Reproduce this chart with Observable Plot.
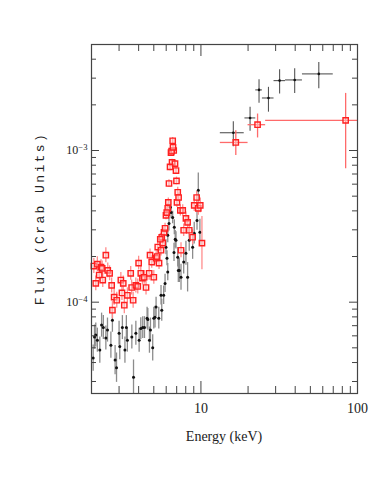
<!DOCTYPE html>
<html><head><meta charset="utf-8">
<script src="https://cdn.jsdelivr.net/npm/d3@7"></script>
<script src="https://cdn.jsdelivr.net/npm/@observablehq/plot@0.6"></script>
<style>body{margin:0;background:#fff}</style>
</head><body><div id="chart"></div>
<script>
// ---- low-energy spectrum, red series (flux in 1e-4 Crab) ----
const redE = [2.07,2.13,2.18,2.24,2.30,2.34,2.36,2.47,2.54,2.61,2.69,2.72,2.79,2.90,3.08,3.13,3.19,3.24,3.39,3.56,3.61,3.69,3.84,3.95,4.00,4.13,4.23,4.34,4.46,4.67,4.73,4.85,5.00,
  5.17,5.30,5.40,5.56,5.62,5.70,5.81,5.90,5.98,6.14,6.19,
  6.25,6.44,6.54,6.60,6.70,6.83,6.93,
  7.03,7.11,7.39,7.46,7.65,7.76,8.02,8.22,8.42,8.85,9.06,9.39,9.62,9.90,10.15,
  6.05,6.35,6.50,6.63,6.98,7.20,5.50,5.25];
const redF = [1.73,1.33,1.78,1.51,1.70,1.67,1.40,2.04,1.62,1.55,1.29,0.885,1.08,1.03,1.40,1.15,1.33,0.955,1.11,1.55,1.25,1.03,1.29,1.27,1.81,1.55,1.44,1.46,1.25,1.55,2.04,1.84,1.46,
  1.95,2.31,1.81,2.20,2.68,2.45,2.89,3.07,3.74,4.16,4.55,
  6.06,9.7,8.34,11.6,10.0,8.2,7.38,
  4.55,5.30,4.03,2.20,4.03,2.98,3.57,3.36,2.98,2.68,4.35,4.90,4.16,4.35,2.45,
  3.9,7.8,9.9,10.5,6.3,4.9,2.6,2.0];
const redErr = [0.12,0.12,0.12,0.12,0.12,0.12,0.12,0.12,0.12,0.12,0.12,0.14,0.13,0.13,0.12,0.12,0.12,0.14,0.12,0.11,0.12,0.13,0.12,0.12,0.11,0.11,0.11,0.11,0.12,0.11,0.1,0.1,0.11,
  0.1,0.09,0.1,0.09,0.09,0.09,0.08,0.08,0.07,0.07,0.07,
  0.06,0.05,0.05,0.05,0.05,0.05,0.06,
  0.08,0.08,0.09,0.12,0.09,0.1,0.1,0.1,0.11,0.12,0.1,0.1,0.11,0.12,0.5,
  0.08,0.06,0.05,0.05,0.06,0.07,0.09,0.1];

// ---- low-energy spectrum, black series (flux in 1e-5 Crab) ----
const blackE = [2.05,2.09,2.13,2.18,2.26,2.32,2.38,2.47,2.53,2.66,2.72,2.83,2.89,3.00,3.03,3.15,3.27,3.34,3.39,3.62,3.71,3.84,4.03,4.13,4.25,4.36,4.53,4.58,4.69,4.76,4.92,5.00,5.09,5.17,5.38,5.56,5.62,5.78,5.90,5.98,6.07,6.14,6.14,6.37,6.60,6.73,6.76,6.93,7.11,7.17,7.28,7.46,7.76,8.02,8.22,8.42,8.85,9.06,9.44,9.62,9.85,
  6.25,6.45,6.85];
const blackF = [4.28,5.89,6.07,5.62,4.83,7.06,6.8,5.8,6.55,5.21,7.6,4.15,3.7,6.25,5.1,6.8,4.83,6.8,5.62,5.89,3.2,6.25,5.62,6.7,6.8,6.8,7.85,7.7,5.62,6.55,5.0,7.85,7.97,9.3,7.85,11.1,8.85,11.1,13.3,23.0,19.5,15.8,27.6,42.2,36.2,21.3,31.2,25.6,19.8,16.2,16.2,14.6,18.4,21.0,14.6,25.6,23.0,28.5,34.6,54.6,28.9,
  33,39,26];
const blackErr = [0.22,0.2,0.2,0.2,0.22,0.2,0.2,0.2,0.2,0.22,0.2,0.25,0.25,0.2,0.22,0.2,0.22,0.2,0.2,0.2,0.3,0.2,0.2,0.18,0.18,0.18,0.18,0.18,0.22,0.2,0.22,0.18,0.18,0.16,0.18,0.16,0.18,0.15,0.15,0.12,0.12,0.14,0.12,0.1,0.1,0.15,0.12,0.14,0.16,0.2,0.2,0.22,0.2,0.2,0.25,0.18,0.2,0.18,0.16,0.3,0.22,
  0.12,0.1,0.14];

// ---- high-energy bins ----
const hxBlackE   = [16.1,20.6,23.5,27.0,31.8,39.7,56.6];
const hxBlackF   = [1.31e-3,1.64e-3,2.51e-3,2.22e-3,2.89e-3,2.92e-3,3.2e-3];
const hxBlackELo = [13.3,19.1,22.4,24.7,29.3,34.7,44.5];
const hxBlackEHi = [18.9,22.4,24.7,29.3,34.7,44.5,70.0];
const hxBlackFLo = [1.06e-3,1.34e-3,2.05e-3,1.79e-3,2.36e-3,2.38e-3,2.55e-3];
const hxBlackFHi = [1.55e-3,1.93e-3,2.93e-3,2.61e-3,3.41e-3,3.46e-3,3.81e-3];

const hxRedE   = [16.7,23.0,84];
const hxRedF   = [1.13e-3,1.48e-3,1.58e-3];
const hxRedELo = [13.3,20.0,25.9];
const hxRedEHi = [20.0,25.9,120];
const hxRedFLo = [9.27e-4,1.21e-3,7.58e-4];
const hxRedFHi = [1.35e-3,1.74e-3,2.38e-3];

// ---- ticks ----
const xTickLabels = [10, 100];
const xMinor = [3,4,5,6,7,8,9,20,30,40,50,60,70,80,90];
const yTickLabels = [1e-4, 1e-3];
const yMinor = [3e-5,4e-5,5e-5,6e-5,7e-5,8e-5,9e-5,2e-4,3e-4,4e-4,5e-4,6e-4,7e-4,8e-4,9e-4,2e-3,3e-3,4e-3];

const xLabel = "Energy (keV)";
const yLabel = "Flux (Crab Units)";

// ---- build tables ----
const red = redE.map((e,i)=>({e, f: redF[i]*1e-4, err: redErr[i]}));
const black = blackE.map((e,i)=>({e, f: blackF[i]*1e-5, err: blackErr[i]}));
const hxBlack = hxBlackE.map((e,i)=>({e, f: hxBlackF[i], e1: hxBlackELo[i], e2: hxBlackEHi[i], f1: hxBlackFLo[i], f2: hxBlackFHi[i]}));
const hxRed = hxRedE.map((e,i)=>({e, f: hxRedF[i], e1: hxRedELo[i], e2: hxRedEHi[i], f1: hxRedFLo[i], f2: hxRedFHi[i]}));

const W=371, H=491, mL=91, mR=14, mT=44, mB=98;
const innerH = H-mT-mB, innerW = W-mL-mR;
const tk = "#444";

const chart = Plot.plot({
  width: W, height: H, marginLeft: mL, marginRight: mR, marginTop: mT, marginBottom: mB,
  style: {background: "#fff", fontFamily: "'Liberation Serif', serif", color: "#222"},
  x: {type: "log", domain: [2, 100]},
  y: {type: "log", domain: [2.5e-5, 5e-3]},
  marks: [
    // black low-energy
    Plot.ruleX(black, {x: "e", y1: d => d.f/(1+d.err), y2: d => d.f*(1+d.err), stroke: "#8c8c8c", strokeWidth: 1.3}),
    Plot.dot(black, {x: "e", y: "f", r: 1.5, fill: "#111", stroke: null}),
    // black high-energy
    Plot.ruleX(hxBlack, {x: "e", y1: "f1", y2: "f2", stroke: "#555", strokeWidth: 1.1}),
    Plot.ruleY(hxBlack, {y: "f", x1: "e1", x2: "e2", stroke: "#555", strokeWidth: 1.1}),
    Plot.dot(hxBlack, {x: "e", y: "f", r: 1.3, fill: "#111", stroke: null}),
    // red low-energy
    Plot.ruleX(red, {x: "e", y1: d => d.f/(1+d.err), y2: d => d.f*(1+d.err), stroke: "#ff8c8c", strokeWidth: 1.3}),
    Plot.dot(red, {x: "e", y: "f", symbol: "square", r: 3, stroke: "#ff2020", strokeWidth: 1.4, fill: "#ffd0d0", fillOpacity: 0.5}),
    // red high-energy
    Plot.ruleX(hxRed, {x: "e", y1: "f1", y2: "f2", stroke: "#ff6a6a", strokeWidth: 1.3}),
    Plot.ruleY(hxRed, {y: "f", x1: "e1", x2: "e2", stroke: "#ff6a6a", strokeWidth: 1.3, clip: true}),
    Plot.dot(hxRed, {x: "e", y: "f", symbol: "square", r: 3, stroke: "#ff2020", strokeWidth: 1.4, fill: "#ffd0d0", fillOpacity: 0.5}),
    // inward ticks on all four sides
    Plot.tickX(xMinor, {x: d => d, insetTop: innerH-7, stroke: tk}),
    Plot.tickX(xMinor, {x: d => d, insetBottom: innerH-7, stroke: tk}),
    Plot.tickX(xTickLabels, {x: d => d, insetTop: innerH-12, stroke: tk}),
    Plot.tickX(xTickLabels, {x: d => d, insetBottom: innerH-12, stroke: tk}),
    Plot.tickY(yMinor, {y: d => d, insetRight: innerW-5, stroke: tk}),
    Plot.tickY(yMinor, {y: d => d, insetLeft: innerW-5, stroke: tk}),
    Plot.tickY(yTickLabels, {y: d => d, insetRight: innerW-8, stroke: tk}),
    Plot.tickY(yTickLabels, {y: d => d, insetLeft: innerW-8, stroke: tk}),
    Plot.frame({stroke: tk, strokeWidth: 1.2}),
    Plot.axisX(xTickLabels, {tickSize: 0, tickPadding: 10, fontSize: 14, label: null, tickFormat: d => String(d)}),
    Plot.axisY(yTickLabels, {tickSize: 0, tickPadding: 4, fontSize: 12, label: null, tickFormat: d => `10^${Math.round(Math.log10(d))}`})
  ]
});

// superscript exponents for y tick labels
d3.select(chart).selectAll('[aria-label="y-axis tick label"] text').each(function() {
  const t = d3.select(this);
  const [base, exp] = t.text().split("^");
  t.text(null);
  t.append("tspan").text(base);
  t.append("tspan").attr("dy", "-0.45em").attr("font-size", "0.72em").text(exp.replace("-", "\u2212"));
});

const svg = d3.select(chart);
svg.append("text")
  .attr("x", mL + innerW/2).attr("y", 441)
  .attr("text-anchor", "middle")
  .attr("font-family", "'Liberation Serif', serif").attr("font-size", 14).attr("fill", "#222")
  .text(xLabel);
svg.append("text")
  .attr("transform", `translate(41,${mT + innerH/2}) rotate(-90)`)
  .attr("text-anchor", "middle").attr("dominant-baseline", "middle")
  .attr("font-family", "'Liberation Mono', monospace").attr("font-size", 13).attr("letter-spacing", "2.4px").attr("fill", "#222")
  .text(yLabel);

document.getElementById("chart").appendChild(chart);
</script>
</body></html>
